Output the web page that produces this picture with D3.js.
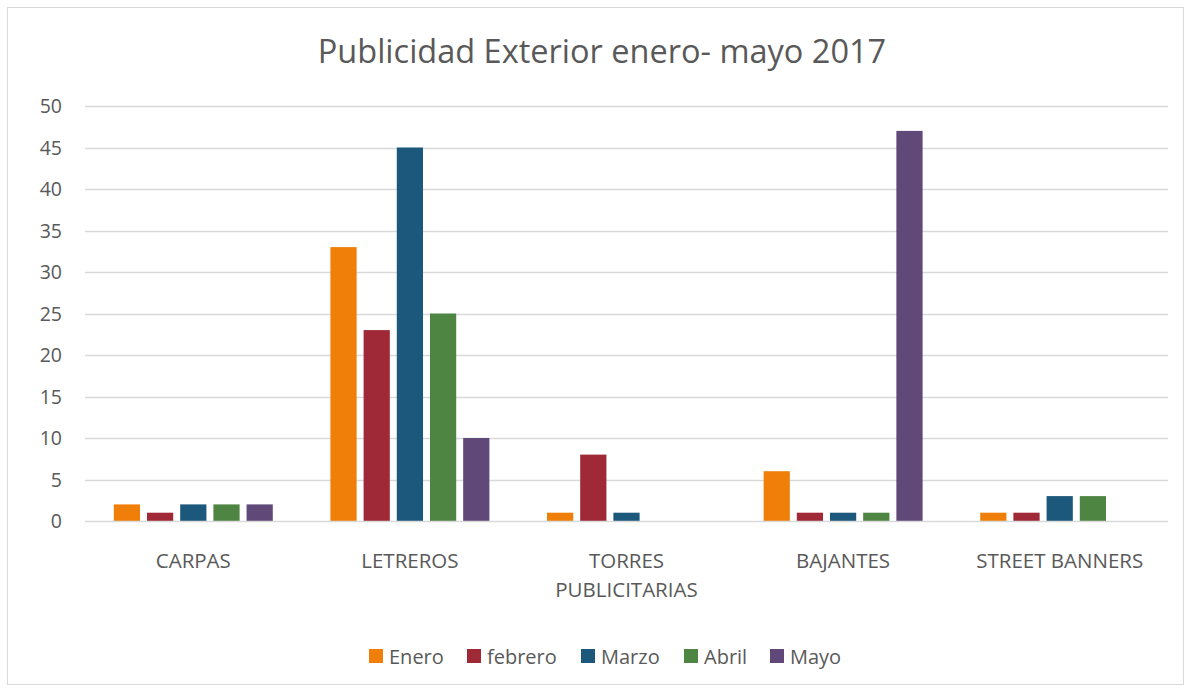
<!DOCTYPE html>
<html><head><meta charset="utf-8">
<script src="https://cdn.jsdelivr.net/npm/d3@7"></script>
<style>body{margin:0;background:#fff}svg{display:block}text{font-family:"Open Sans","Liberation Sans",sans-serif;fill:#595959}</style>
</head><body>
<svg id="c" width="1191" height="689"></svg>
<script>
const categories = [["CARPAS"],["LETREROS"],["TORRES","PUBLICITARIAS"],["BAJANTES"],["STREET BANNERS"]];
const seriesNames = ["Enero","febrero","Marzo","Abril","Mayo"];
const colors = ["#F07F09","#9F2936","#1B587C","#4E8542","#604878"];
const enero   = [2,33,1,6,1];
const febrero = [1,23,8,1,1];
const marzo   = [2,45,1,1,3];
const abril   = [2,25,0,1,3];
const mayo    = [2,10,0,47,0];
const yTicks  = [0,5,10,15,20,25,30,35,40,45,50];
const title = "Publicidad Exterior enero- mayo 2017";

const series = [enero,febrero,marzo,abril,mayo];
const svg = d3.select("#c");
svg.append("rect").attr("x",7.5).attr("y",7.5).attr("width",1176).attr("height",677)
  .attr("fill","#fff").attr("stroke","#d9d9d9");

const pL=85, pR=1168, pT=106, pB=521;
const y = d3.scaleLinear().domain([0,50]).range([pB,pT]);
const x0 = d3.scaleBand().domain(d3.range(categories.length)).range([pL,pR]).paddingInner(0.266).paddingOuter(0.133);
const x1 = d3.scaleBand().domain(d3.range(seriesNames.length)).range([0,x0.bandwidth()]).paddingInner(0.21);

svg.append("text").attr("x",602).attr("y",63).attr("text-anchor","middle")
  .style("font-size","32.5px").text(title);

const g = svg.append("g");
g.selectAll("line.grid").data(yTicks.filter(d=>d>0)).join("line")
  .attr("x1",pL).attr("x2",pR).attr("y1",d=>Math.round(y(d))+0.5).attr("y2",d=>Math.round(y(d))+0.5)
  .attr("stroke","#d9d9d9").attr("stroke-width",1.5);

g.selectAll("text.yt").data(yTicks).join("text")
  .attr("x",62).attr("y",d=>y(d)+7).attr("text-anchor","end").style("font-size","19.5px").text(d=>d);

const cg = g.selectAll("g.cat").data(categories).join("g").attr("transform",(d,i)=>`translate(${x0(i)},0)`);
cg.selectAll("rect").data((d,i)=>series.map((s,j)=>({v:s[i],j}))).join("rect")
  .attr("x",d=>x1(d.j)).attr("width",x1.bandwidth())
  .attr("y",d=>y(d.v)).attr("height",d=>pB-y(d.v))
  .attr("fill",d=>colors[d.j]);

g.append("line").attr("x1",pL).attr("x2",pR).attr("y1",pB+0.5).attr("y2",pB+0.5)
  .attr("stroke","#d9d9d9").attr("stroke-width",1.5);

categories.forEach((lines,i)=>{
  const cx = x0(i)+x0.bandwidth()/2;
  lines.forEach((t,k)=>{
    svg.append("text").attr("x",cx).attr("y",568+k*29).attr("text-anchor","middle")
      .style("font-size","20.5px").text(t);
  });
});

const legX = [369,467,581,684,770];
const lg = svg.selectAll("g.leg").data(seriesNames).join("g").attr("transform",(d,i)=>`translate(${legX[i]},649)`);
lg.append("rect").attr("width",14).attr("height",14).attr("fill",(d,i)=>colors[i]);
lg.append("text").attr("x",20).attr("y",15).style("font-size","20px").text(d=>d);
</script>
</body></html>
